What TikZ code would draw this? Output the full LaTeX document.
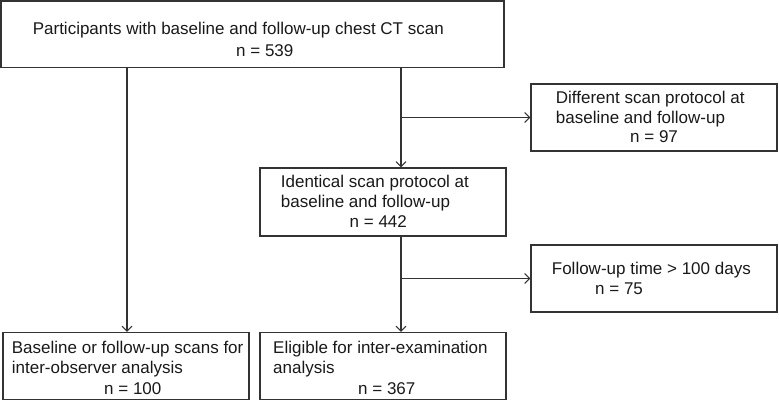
\documentclass[tikz,border=0pt]{standalone}
\usepackage{fontspec}
\setmainfont{Liberation Sans}
\usetikzlibrary{arrows.meta}
\begin{document}
\begin{tikzpicture}[x=1pt,y=-1pt,
 box/.style={draw=black!80,line width=1.1pt,rectangle,inner sep=0pt},
 txt/.style={anchor=base west,inner sep=0pt,font=\fontsize{17}{20}\selectfont,text=black!90},
 arr/.style={draw=black!80,line width=1.1pt,-{Straight Barb[length=5pt,width=10pt]}}]
\useasboundingbox (0,0) rectangle (779,401);
% boxes
\node[box,minimum width=503pt,minimum height=66.5pt] (top) at (252.5,34.25) {};
\node[box,minimum width=246pt,minimum height=67pt] (r1) at (654,117.5) {};
\node[box,minimum width=246pt,minimum height=68pt] (mid) at (383,202) {};
\node[box,minimum width=246pt,minimum height=67pt] (r2) at (654,278.5) {};
\node[box,minimum width=246pt,minimum height=67pt] (bl) at (126,366) {};
\node[box,minimum width=246pt,minimum height=67pt] (bm) at (383,366) {};
% texts
\node[txt] (ta1) at (32.6,34.4) {Participants with baseline and follow-up chest CT scan};
\node[txt] (ta2) at (236,56.7) {n = 539};
\node[txt] (tb1) at (555.7,103.3) {Different scan protocol at};
\node[txt] (tb2) at (555.7,123.3) {baseline and follow-up};
\node[txt] (tb3) at (630,142.7) {n = 97};
\node[txt] (tc1) at (280.7,187.7) {Identical scan protocol at};
\node[txt] (tc2) at (280.7,207.2) {baseline and follow-up};
\node[txt] (tc3) at (349.5,227) {n = 442};
\node[txt] (td1) at (551.7,274.3) {Follow-up time > 100 days};
\node[txt] (td2) at (595,294.3) {n = 75};
\node[txt] (te1) at (11.7,353.5) {Baseline or follow-up scans for};
\node[txt] (te2) at (11.7,373.5) {inter-observer analysis};
\node[txt] (te3) at (104,394) {n = 100};
\node[txt] (tf1) at (273,353.5) {Eligible for inter-examination};
\node[txt] (tf2) at (273,373.5) {analysis};
\node[txt] (tf3) at (358,394) {n = 367};
% connectors
\coordinate (mx) at (401,0);
\coordinate (lx) at (127,0);
\draw[arr] (top.south -| lx) -- (bl.north -| lx);
\draw[arr] (top.south -| mx) -- (mid.north -| mx);
\draw[arr] (mx |- r1.west) -- (r1.west);
\draw[arr] (mid.south -| mx) -- (bm.north -| mx);
\draw[arr] (mx |- r2.west) -- (r2.west);
\end{tikzpicture}
\end{document}
